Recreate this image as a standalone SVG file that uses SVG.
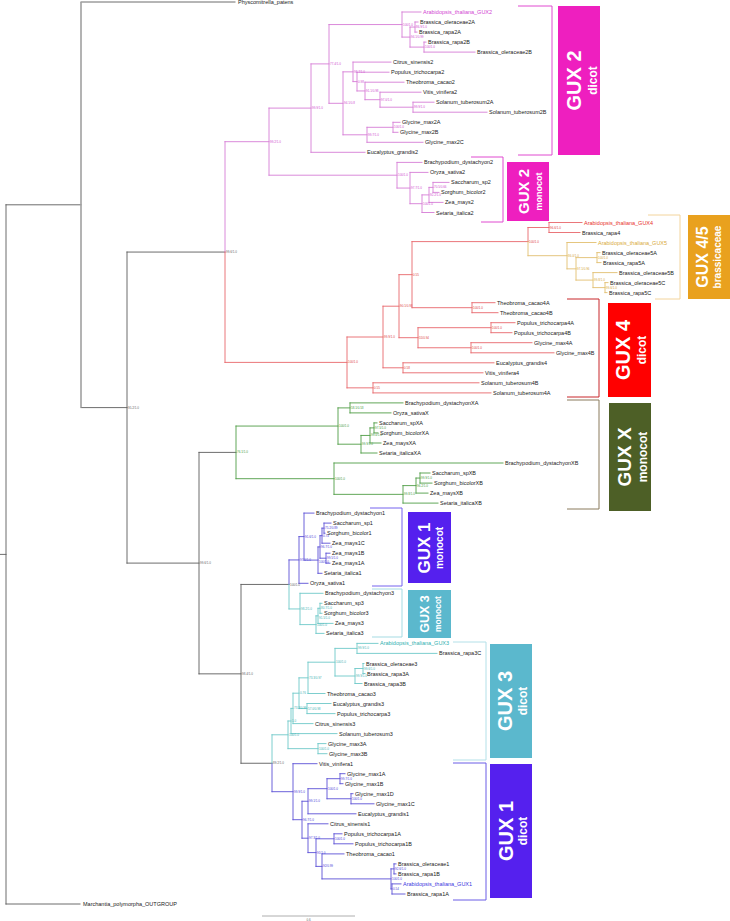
<svg xmlns="http://www.w3.org/2000/svg" width="730" height="921" viewBox="0 0 730 921">
<style>
text{font-family:"Liberation Sans",Arial,sans-serif}
.e{fill:none;stroke-width:0.9;stroke-linecap:square}
.gy{stroke:#5c5c5c}.pk{stroke:#d67dd6}.rd{stroke:#e8676b}.gd{stroke:#e2c070}.gn{stroke:#4f9d45}.bl{stroke:#5b50d6}.tl{stroke:#6ec8c8}
.lf{font-size:5.5px;fill:#1a1a1a}
.sv{font-size:3px}
.sgy{fill:#666}.spk{fill:#d050d0}.srd{fill:#e04444}.sgd{fill:#d4a840}.sgn{fill:#3f9a3a}.sbl{fill:#4a42d8}.stl{fill:#3fb3b3}
.bx{font-weight:bold;fill:#fff;text-anchor:middle}
.br{fill:none;stroke-width:1}
</style>
<rect width="730" height="921" fill="#fff"/>
<g id="connectors">
<path class="e gy" d="M0,554.4H6 M6,204.8V904 M6,904H80 M6,204.8H81 M81,2H235 M81,407.6H127 M127,252.05V563.1 M127,252.05H225 M127,563.1H199 M199,452.4V673.85 M199,452.4H236 M199,673.85H241 M241,584.45V763.25 M241,584.45H289 M241,763.25H272"/>
<path d="M81,2V407.6" fill="none" stroke="#a0a0a0" stroke-width="1.6"/>
<path class="e pk" d="M225,141.7V252.05 M225,141.7H269 M269,108.1V175.2 M269,108.1H311 M269,175.2H397 M311,63.9V152.3 M311,63.9H329 M311,152.3H365 M329,24.55V103.3 M329,24.55H402 M329,103.3H343 M402,12V37.1 M402,12H421 M402,37.1H410 M410,27.05V47.1 M410,27.05H415 M410,47.1H424 M415,22V32.1 M415,22H418 M415,32.1H417 M424,42.1V52.1 M424,42.1H426 M424,52.1H475 M343,71.85V134.8 M343,71.85H353 M343,134.8H367 M353,62.1V81.6 M353,62.1H391 M353,81.6H357 M357,72.2V90.95 M357,72.2H389 M357,90.95H365 M365,82.2V99.7 M365,82.2H404 M365,99.7H380 M380,92.2V107.2 M380,92.2H421 M380,107.2H413 M413,102.2V112.2 M413,102.2H434 M413,112.2H487 M367,127.3V142.3 M367,127.3H393 M367,142.3H423 M393,122.3V132.3 M393,122.3H400 M393,132.3H398 M397,162.4V188.05 M397,162.4H422 M397,188.05H410 M410,172.4V203.7 M410,172.4H428 M410,203.7H422 M422,194.9V212.5 M422,194.9H429 M422,212.5H434 M429,187.4V202.4 M429,187.4H433 M429,202.4H443 M433,182.4V192.4 M433,182.4H449 M433,192.4H439"/>
<path class="e rd" d="M225,252.05V362.4 M225,362.4H347 M347,337V387.85 M347,337H383 M347,387.85H373 M373,382.8V392.9 M373,382.8H479 M373,392.9H491 M383,306.2V367.8 M383,306.2H399 M383,367.8H403 M403,362.8V372.8 M403,362.8H494 M403,372.8H483 M399,274.65V337.7 M399,274.65H412 M399,337.7H418 M412,241.6V307.7 M412,241.6H528 M412,307.7H472 M472,302.7V312.7 M472,302.7H495 M472,312.7H498 M418,327.7V347.75 M418,327.7H491 M418,347.75H471 M491,322.7V332.7 M491,322.7H515 M491,332.7H512 M471,342.7V352.8 M471,342.7H532 M471,352.8H554 M528,227.5V241.6 M528,227.5H549 M549,222.5V232.5 M549,222.5H582 M549,232.5H580"/>
<path class="e gd" d="M528,241.6V255.7 M528,255.7H567 M567,242.5V268.85 M567,242.5H596 M567,268.85H576 M576,257.6V280.1 M576,257.6H597 M576,280.1H593 M597,252.6V262.6 M597,252.6H600 M597,262.6H601 M593,272.6V287.6 M593,272.6H617 M593,287.6H605 M605,282.6V292.6 M605,282.6H608 M605,292.6H607"/>
<path class="e gn" d="M236,426.05V478.7 M236,426.05H338 M236,478.7H334 M338,407.9V444.2 M338,407.9H350 M338,444.2H361 M350,402.9V412.9 M350,402.9H403 M350,412.9H391 M361,435.45V453 M361,435.45H370 M361,453H377 M370,427.9V443 M370,427.9H374 M370,443H381 M374,422.9V432.9 M374,422.9H377 M374,432.9H378 M334,463V494.35 M334,463H503 M334,494.35H403 M403,485.6V503.1 M403,485.6H416 M403,503.1H438 M416,478.05V493.1 M416,478.05H420 M416,493.1H428 M420,473V483.1 M420,473H430 M420,483.1H432"/>
<path class="e bl" d="M289,559.95V584.45 M289,559.95H299 M299,536.6V583.3 M299,536.6H304 M299,583.3H308 M304,513.1V560.1 M304,513.1H314 M304,560.1H318 M318,546.95V573.3 M318,546.95H320 M318,573.3H322 M320,535.7V558.2 M320,535.7H322 M320,558.2H326 M322,528.15V543.2 M322,528.15H324 M322,543.2H330 M324,523.1V533.2 M324,523.1H331 M324,533.2H325 M326,553.2V563.2 M326,553.2H330 M326,563.2H330 M272,763.25V791.7 M272,791.7H293 M293,763.7V819.7 M293,763.7H317 M293,819.7H302 M302,801.25V838.2 M302,801.25H308 M302,838.2H308 M308,788.7V813.8 M308,788.7H327 M308,813.8H356 M327,778.7V798.75 M327,778.7H340 M327,798.75H351 M340,773.7V783.7 M340,773.7H345 M340,783.7H343 M351,793.7V803.8 M351,793.7H353 M351,803.8H374 M308,823.8V852.6 M308,823.8H328 M308,852.6H316 M316,838.8V866.4 M316,838.8H334 M316,866.4H322 M334,833.8V843.8 M334,833.8H342 M334,843.8H353 M322,853.9V878.9 M322,853.9H344 M322,878.9H391 M391,868.9V888.95 M391,868.9H394 M391,888.95H392 M394,863.9V873.9 M394,863.9H396 M394,873.9H396 M392,883.9V894 M392,883.9H401 M392,894H405"/>
<path class="e tl" d="M289,584.45V608.95 M289,608.95H300 M300,593.3V624.6 M300,593.3H323 M300,624.6H316 M316,615.85V633.4 M316,615.85H318 M316,633.4H324 M318,608.3V623.4 M318,608.3H320 M318,623.4H333 M320,603.3V613.3 M320,603.3H322 M320,613.3H322 M272,734.8V763.25 M272,734.8H288 M288,721V748.65 M288,721H291 M288,748.65H318 M291,708.4V733.6 M291,708.4H293 M291,733.6H337 M293,693.2V723.6 M293,693.2H299 M293,723.6H313 M299,677.85V708.55 M299,677.85H308 M299,708.55H307 M308,662.2V693.5 M308,662.2H335 M308,693.5H325 M307,703.5V713.6 M307,703.5H331 M307,713.6H335 M335,648.4V676 M335,648.4H357 M335,676H355 M357,643.4V653.4 M357,643.4H378 M357,653.4H437 M355,668.5V683.5 M355,668.5H363 M355,683.5H362 M363,663.5V673.5 M363,663.5H364 M363,673.5H365 M318,743.6V753.7 M318,743.6H326 M318,753.7H327"/>
</g>
<g id="brackets">
<path class="br" stroke="#e04ad0" d="M518,6H552V155H518"/>
<path class="br" stroke="#e04ad0" d="M471,157H503V222H481"/>
<path class="br" stroke="#f3d49c" d="M648,215H680V299H655"/>
<path class="br" stroke="#c8262a" d="M567,299H599V397H567"/>
<path class="br" stroke="#8a7a5c" d="M567,400H599V509H567"/>
<path class="br" stroke="#7563ee" d="M370,508H402V586H372"/>
<path class="br" stroke="#a5dbe3" d="M372,589H402V637H372"/>
<path class="br" stroke="#b3e0e8" d="M453,642H486V760H453"/>
<path class="br" stroke="#6b5de6" d="M453,763H486V900H453"/>
</g>
<g id="scale-bar">
<path d="M262,916H355" stroke="#9a9a9a" stroke-width="0.8"/>
<text class="sv sgy" x="308.5" y="920.5" text-anchor="middle">0.6</text>
</g>
<g id="support-values" class="sv">
<text class="sgy" x="128" y="408.6">95.2/1.0</text><text class="sgy" x="226" y="253">99.6/1.0</text><text class="sgy" x="200" y="564">99.6/1.0</text><text class="sgy" x="242" y="675">98.4/1.0</text><text class="sgy" x="290" y="585.5">100/1.0</text><text class="sgy" x="273" y="764.2">89.2/1.0</text>
<text class="spk" x="270" y="142.7">99.2/1.0</text><text class="spk" x="312" y="109.1">99.9/1.0</text><text class="spk" x="330" y="64.9">77.4/1.0</text><text class="spk" x="403" y="25.5">100/1.0</text><text class="spk" x="411" y="38.1">94.1/0.99</text><text class="spk" x="416" y="28">86.9/1.0</text><text class="spk" x="425" y="48.1">100/1.0</text><text class="spk" x="344" y="104.3">94.1/0.8</text><text class="spk" x="354" y="72.8">98.7/1.0</text><text class="spk" x="358" y="82.6">0.98</text><text class="spk" x="366" y="92">91.1/0.98</text><text class="spk" x="381" y="100.7">97.0/1.0</text><text class="spk" x="414" y="108.2">99.9/1.0</text><text class="spk" x="368" y="135.8">99.7/1.0</text><text class="spk" x="394" y="128.3">100/1.0</text><text class="spk" x="398" y="176.2">100/1.0</text><text class="spk" x="411" y="189">97.7/1.0</text><text class="spk" x="423" y="204.7">100/1.0</text><text class="spk" x="430" y="195.9">92.2/1.0</text><text class="spk" x="434" y="188.4">70.5/0.66</text>
<text class="srd" x="348" y="363.4">100/1.0</text><text class="srd" x="384" y="338">99.9/1.0</text><text class="srd" x="374" y="388.8">0.55</text><text class="srd" x="400" y="307.2">90.1/0.93</text><text class="srd" x="404" y="368.8">0.58</text><text class="srd" x="413" y="275.6">0.55</text><text class="srd" x="419" y="338.7">55/0.94</text><text class="srd" x="492" y="328.7">100/1.0</text><text class="srd" x="472" y="348.7">100/1.0</text><text class="srd" x="473" y="308.7">100/1.0</text><text class="srd" x="529" y="242.6">100/1.0</text><text class="srd" x="550" y="228.5">96.6/1.0</text>
<text class="sgd" x="568" y="256.7">86.0/1.0</text><text class="sgd" x="577" y="269.8">97.1/0.96</text><text class="sgd" x="598" y="258.6">100/1.0</text><text class="sgd" x="594" y="281.1">99.8/1.0</text><text class="sgd" x="606" y="288.6">99.6/1.0</text>
<text class="sgn" x="237" y="453.4">76.1/1.0</text><text class="sgn" x="339" y="427">100/1.0</text><text class="sgn" x="351" y="408.9">58.1/0.53</text><text class="sgn" x="362" y="445.2">99.9/1.0</text><text class="sgn" x="371" y="436.4">99.0/1.0</text><text class="sgn" x="375" y="428.9">97.5/1.0</text><text class="sgn" x="335" y="479.7">100/1.0</text><text class="sgn" x="404" y="495.3">99.8/1.0</text><text class="sgn" x="417" y="486.6">96.2/1.0</text><text class="sgn" x="421" y="479">99.9/1.0</text>
<text class="sbl" x="300" y="561">97.5/1.0</text><text class="sbl" x="305" y="537.6">91.6/1.0</text><text class="sbl" x="319" y="563.2">100/1.0</text><text class="sbl" x="321" y="548">96.7/1.0</text><text class="sbl" x="323" y="536.7">0.74</text><text class="sbl" x="325" y="529.1">75.2/0.89</text><text class="sbl" x="327" y="559.2">99.5/1.0</text><text class="sbl" x="294" y="792.7">99.9/1.0</text><text class="sbl" x="303" y="820.7">96.7/1.0</text><text class="sbl" x="309" y="802.2">99.1/1.0</text><text class="sbl" x="328" y="789.7">100/1.0</text><text class="sbl" x="341" y="779.7">99.7/1.0</text><text class="sbl" x="352" y="799.7">100/1.0</text><text class="sbl" x="309" y="839.2">97.3/1.0</text><text class="sbl" x="317" y="853.6">91/1.0</text><text class="sbl" x="335" y="839.8">100/1.0</text><text class="sbl" x="323" y="867.4">92/0.99</text><text class="sbl" x="392" y="879.9">100/1.0</text><text class="sbl" x="395" y="869.9">92.6/1.0</text><text class="sbl" x="393" y="889.9">0.54</text>
<text class="stl" x="301" y="610">98.2/1.0</text><text class="stl" x="317" y="625.6">100/1.0</text><text class="stl" x="319" y="619.4">91.5/1.0</text><text class="stl" x="321" y="609.3">80.7/1.0</text><text class="stl" x="289" y="735.8">100/1.0</text><text class="stl" x="292" y="722">1.0</text><text class="stl" x="294" y="709.4">73.3/0.99</text><text class="stl" x="300" y="694.2">0.76</text><text class="stl" x="309" y="678.8">73.3/0.97</text><text class="stl" x="308" y="709.5">57.0/0.98</text><text class="stl" x="336" y="663.2">100/1.0</text><text class="stl" x="358" y="649.4">99.9/1.0</text><text class="stl" x="356" y="677">99.9/1.0</text><text class="stl" x="364" y="669.5">99.6/1.0</text><text class="stl" x="319" y="749.6">100/1.0</text>
</g>
<g id="leaves" class="lf">
<g id="leaf00"><text x="238" y="4">Physcomitrella_patens</text></g>
<g id="leaf01"><text x="423" y="14" fill="#d23fd2">Arabidopsis_thaliana_GUX2</text></g>
<g id="leaf02"><text x="420" y="24">Brassica_oleraceae2A</text></g>
<g id="leaf03"><text x="419" y="34.1">Brassica_rapa2A</text></g>
<g id="leaf04"><text x="428" y="44.1">Brassica_rapa2B</text></g>
<g id="leaf05"><text x="477" y="54.1">Brassica_oleraceae2B</text></g>
<g id="leaf06"><text x="393" y="64.1">Citrus_sinensis2</text></g>
<g id="leaf07"><text x="391" y="74.2">Populus_trichocarpa2</text></g>
<g id="leaf08"><text x="406" y="84.2">Theobroma_cacao2</text></g>
<g id="leaf09"><text x="423" y="94.2">Vitis_vinifera2</text></g>
<g id="leaf10"><text x="436" y="104.2">Solanum_tuberosum2A</text></g>
<g id="leaf11"><text x="489" y="114.2">Solanum_tuberosum2B</text></g>
<g id="leaf12"><text x="402" y="124.3">Glycine_max2A</text></g>
<g id="leaf13"><text x="400" y="134.3">Glycine_max2B</text></g>
<g id="leaf14"><text x="425" y="144.3">Glycine_max2C</text></g>
<g id="leaf15"><text x="367" y="154.3">Eucalyptus_grandis2</text></g>
<g id="leaf16"><text x="424" y="164.4">Brachypodium_dystachyon2</text></g>
<g id="leaf17"><text x="430" y="174.4">Oryza_sativa2</text></g>
<g id="leaf18"><text x="451" y="184.4">Saccharum_sp2</text></g>
<g id="leaf19"><text x="441" y="194.4">Sorghum_bicolor2</text></g>
<g id="leaf20"><text x="445" y="204.4">Zea_mays2</text></g>
<g id="leaf21"><text x="436" y="214.5">Setaria_italica2</text></g>
<g id="leaf22"><text x="584" y="224.5" fill="#e8302a">Arabidopsis_thaliana_GUX4</text></g>
<g id="leaf23"><text x="582" y="234.5">Brassica_rapa4</text></g>
<g id="leaf24"><text x="598" y="244.5" fill="#d9aa3a">Arabidopsis_thaliana_GUX5</text></g>
<g id="leaf25"><text x="602" y="254.6">Brassica_oleraceae5A</text></g>
<g id="leaf26"><text x="603" y="264.6">Brassica_rapa5A</text></g>
<g id="leaf27"><text x="619" y="274.6">Brassica_oleraceae5B</text></g>
<g id="leaf28"><text x="610" y="284.6">Brassica_oleraceae5C</text></g>
<g id="leaf29"><text x="609" y="294.6">Brassica_rapa5C</text></g>
<g id="leaf30"><text x="497" y="304.7">Theobroma_cacao4A</text></g>
<g id="leaf31"><text x="500" y="314.7">Theobroma_cacao4B</text></g>
<g id="leaf32"><text x="517" y="324.7">Populus_trichocarpa4A</text></g>
<g id="leaf33"><text x="514" y="334.7">Populus_trichocarpa4B</text></g>
<g id="leaf34"><text x="534" y="344.7">Glycine_max4A</text></g>
<g id="leaf35"><text x="556" y="354.8">Glycine_max4B</text></g>
<g id="leaf36"><text x="496" y="364.8">Eucalyptus_grandis4</text></g>
<g id="leaf37"><text x="485" y="374.8">Vitis_vinifera4</text></g>
<g id="leaf38"><text x="481" y="384.8">Solanum_tuberosum4B</text></g>
<g id="leaf39"><text x="493" y="394.9">Solanum_tuberosum4A</text></g>
<g id="leaf40"><text x="405" y="404.9">Brachypodium_dystachyonXA</text></g>
<g id="leaf41"><text x="393" y="414.9">Oryza_sativaX</text></g>
<g id="leaf42"><text x="379" y="424.9">Saccharum_spXA</text></g>
<g id="leaf43"><text x="380" y="434.9">Sorghum_bicolorXA</text></g>
<g id="leaf44"><text x="383" y="445">Zea_maysXA</text></g>
<g id="leaf45"><text x="379" y="455">Setaria_italicaXA</text></g>
<g id="leaf46"><text x="505" y="465">Brachypodium_dystachyonXB</text></g>
<g id="leaf47"><text x="432" y="475">Saccharum_spXB</text></g>
<g id="leaf48"><text x="434" y="485.1">Sorghum_bicolorXB</text></g>
<g id="leaf49"><text x="430" y="495.1">Zea_maysXB</text></g>
<g id="leaf50"><text x="440" y="505.1">Setaria_italicaXB</text></g>
<g id="leaf51"><text x="316" y="515.1">Brachypodium_dystachyon1</text></g>
<g id="leaf52"><text x="333" y="525.1">Saccharum_sp1</text></g>
<g id="leaf53"><text x="327" y="535.2">Sorghum_bicolor1</text></g>
<g id="leaf54"><text x="332" y="545.2">Zea_mays1C</text></g>
<g id="leaf55"><text x="332" y="555.2">Zea_mays1B</text></g>
<g id="leaf56"><text x="332" y="565.2">Zea_mays1A</text></g>
<g id="leaf57"><text x="324" y="575.3">Setaria_italica1</text></g>
<g id="leaf58"><text x="310" y="585.3">Oryza_sativa1</text></g>
<g id="leaf59"><text x="325" y="595.3">Brachypodium_dystachyon3</text></g>
<g id="leaf60"><text x="324" y="605.3">Saccharum_sp3</text></g>
<g id="leaf61"><text x="324" y="615.3">Sorghum_bicolor3</text></g>
<g id="leaf62"><text x="335" y="625.4">Zea_mays3</text></g>
<g id="leaf63"><text x="326" y="635.4">Setaria_italica3</text></g>
<g id="leaf64"><text x="380" y="645.4" fill="#30b0b0">Arabidopsis_thaliana_GUX3</text></g>
<g id="leaf65"><text x="439" y="655.4">Brassica_rapa3C</text></g>
<g id="leaf66"><text x="366" y="665.5">Brassica_oleraceae3</text></g>
<g id="leaf67"><text x="367" y="675.5">Brassica_rapa3A</text></g>
<g id="leaf68"><text x="364" y="685.5">Brassica_rapa3B</text></g>
<g id="leaf69"><text x="327" y="695.5">Theobroma_cacao3</text></g>
<g id="leaf70"><text x="333" y="705.5">Eucalyptus_grandis3</text></g>
<g id="leaf71"><text x="337" y="715.6">Populus_trichocarpa3</text></g>
<g id="leaf72"><text x="315" y="725.6">Citrus_sinensis3</text></g>
<g id="leaf73"><text x="339" y="735.6">Solanum_tuberosum3</text></g>
<g id="leaf74"><text x="328" y="745.6">Glycine_max3A</text></g>
<g id="leaf75"><text x="329" y="755.7">Glycine_max3B</text></g>
<g id="leaf76"><text x="319" y="765.7">Vitis_vinifera1</text></g>
<g id="leaf77"><text x="347" y="775.7">Glycine_max1A</text></g>
<g id="leaf78"><text x="345" y="785.7">Glycine_max1B</text></g>
<g id="leaf79"><text x="355" y="795.7">Glycine_max1D</text></g>
<g id="leaf80"><text x="376" y="805.8">Glycine_max1C</text></g>
<g id="leaf81"><text x="358" y="815.8">Eucalyptus_grandis1</text></g>
<g id="leaf82"><text x="330" y="825.8">Citrus_sinensis1</text></g>
<g id="leaf83"><text x="344" y="835.8">Populus_trichocarpa1A</text></g>
<g id="leaf84"><text x="355" y="845.8">Populus_trichocarpa1B</text></g>
<g id="leaf85"><text x="346" y="855.9">Theobroma_cacao1</text></g>
<g id="leaf86"><text x="398" y="865.9">Brassica_oleraceae1</text></g>
<g id="leaf87"><text x="398" y="875.9">Brassica_rapa1B</text></g>
<g id="leaf88"><text x="403" y="885.9" fill="#3a35e0">Arabidopsis_thaliana_GUX1</text></g>
<g id="leaf89"><text x="407" y="896">Brassica_rapa1A</text></g>
<g id="leaf90"><text x="83" y="906">Marchantia_polymorpha_OUTGROUP</text></g>
</g>
<g id="box-gux2-dicot"><rect x="558" y="6" width="42" height="149" fill="#ee1fbf"/><text class="bx" font-size="20" transform="translate(581,80.5) rotate(-90)">GUX 2</text><text class="bx" font-size="12" transform="translate(597,80.5) rotate(-90)">dicot</text></g>
<g id="box-gux2-monocot"><rect x="507" y="162" width="42" height="59" fill="#ee1fbf"/><text class="bx" font-size="15" transform="translate(529,191.5) rotate(-90)">GUX 2</text><text class="bx" font-size="9" transform="translate(542,191.5) rotate(-90)">monocot</text></g>
<g id="box-gux45"><rect x="688" y="215" width="42" height="84" fill="#e9a11e"/><text class="bx" font-size="16" transform="translate(708,257) rotate(-90)">GUX 4/5</text><text class="bx" font-size="10" transform="translate(721,257) rotate(-90)">brassicaceae</text></g>
<g id="box-gux4-dicot"><rect x="608" y="303" width="43" height="94" fill="#ff0000"/><text class="bx" font-size="20" transform="translate(630,350) rotate(-90)">GUX 4</text><text class="bx" font-size="12" transform="translate(646,350) rotate(-90)">dicot</text></g>
<g id="box-guxx-monocot"><rect x="609" y="403" width="42" height="108" fill="#4d5f26"/><text class="bx" font-size="19" transform="translate(631,457) rotate(-90)">GUX X</text><text class="bx" font-size="12" transform="translate(647,457) rotate(-90)">monocot</text></g>
<g id="box-gux1-monocot"><rect x="408" y="512" width="43" height="71" fill="#5520ee"/><text class="bx" font-size="17" transform="translate(430,548) rotate(-90)">GUX 1</text><text class="bx" font-size="10" transform="translate(443,548) rotate(-90)">monocot</text></g>
<g id="box-gux3-monocot"><rect x="408" y="590" width="43" height="48" fill="#5bb8cd"/><text class="bx" font-size="12.5" transform="translate(429,614) rotate(-90)">GUX 3</text><text class="bx" font-size="8.5" transform="translate(441,614) rotate(-90)">monocot</text></g>
<g id="box-gux3-dicot"><rect x="490" y="644" width="42" height="114" fill="#5bb8cd"/><text class="bx" font-size="20" transform="translate(512,701) rotate(-90)">GUX 3</text><text class="bx" font-size="12" transform="translate(527,701) rotate(-90)">dicot</text></g>
<g id="box-gux1-dicot"><rect x="490" y="764" width="42" height="134" fill="#5520ee"/><text class="bx" font-size="20" transform="translate(513,831) rotate(-90)">GUX 1</text><text class="bx" font-size="12" transform="translate(527,831) rotate(-90)">dicot</text></g>
</svg>
